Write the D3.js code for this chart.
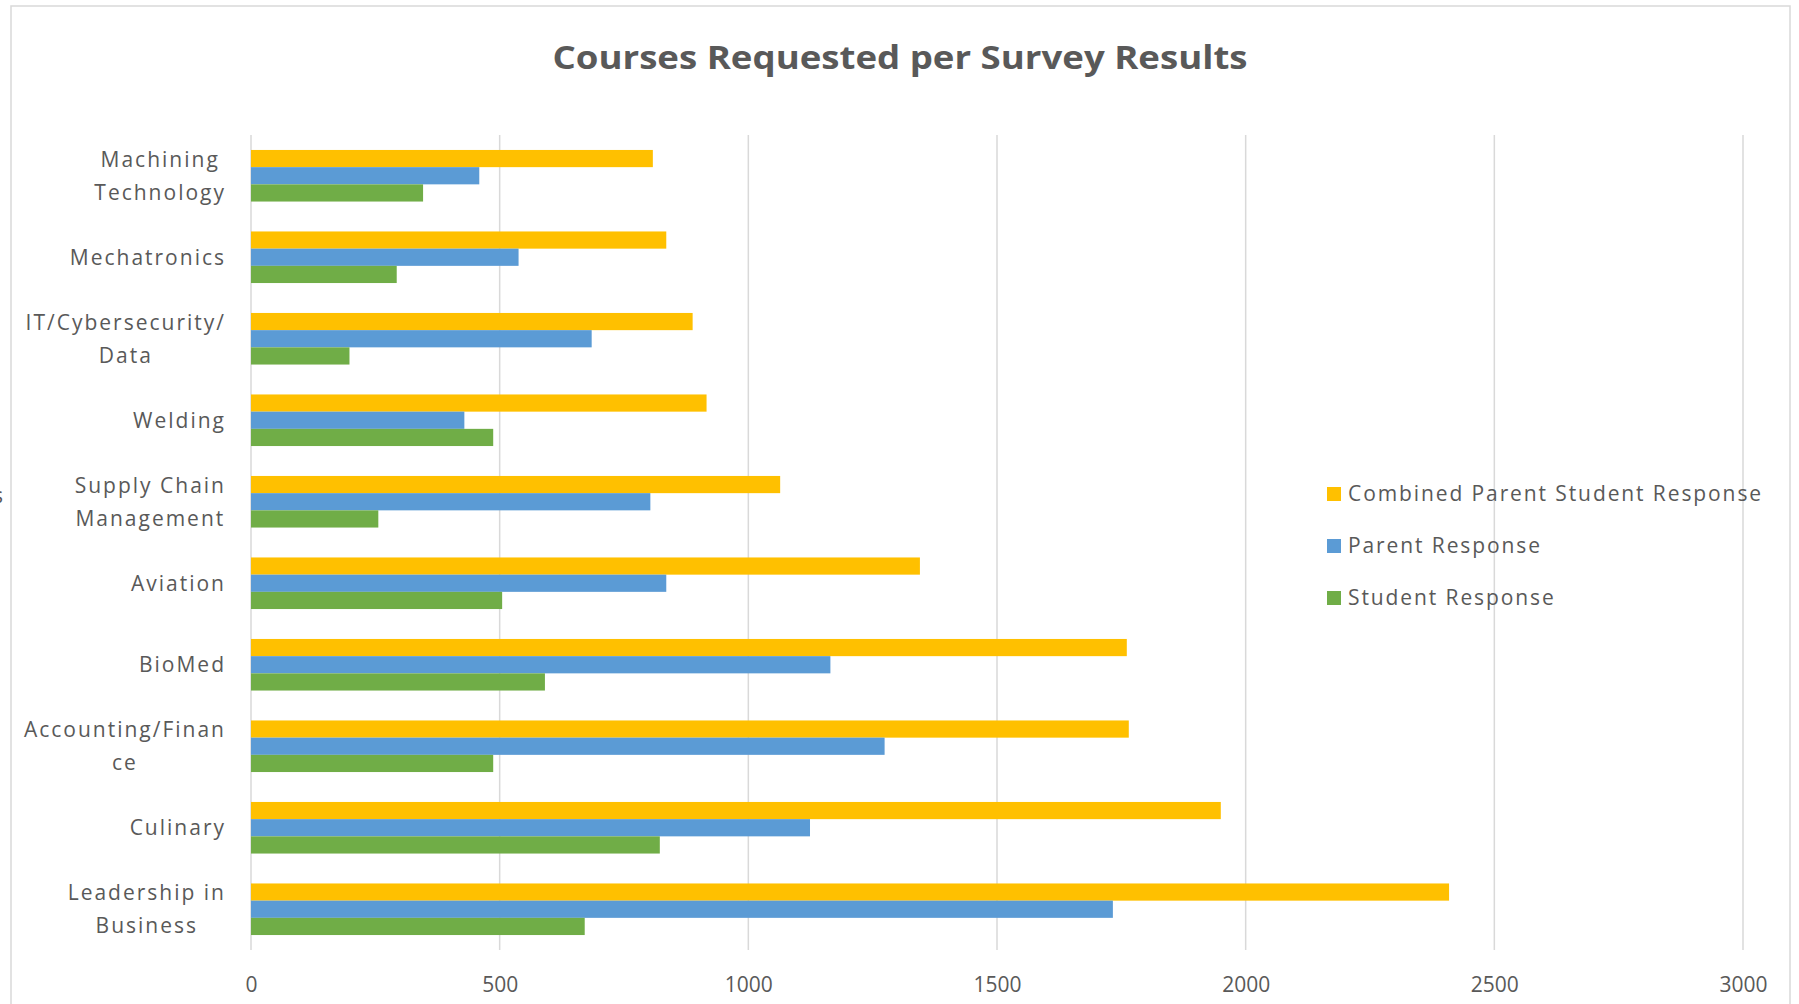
<!DOCTYPE html>
<html>
<head>
<meta charset="utf-8">
<script src="https://cdn.jsdelivr.net/npm/d3@7"></script>
<style>
  body { margin: 0; background: #fff; }
  text { font-family: "Open Sans", "Noto Sans", sans-serif; fill: #595959; }
</style>
</head>
<body>
<div class="chart"></div>
<script>
// categories top to bottom, as shown
var categories = ['Machining Technology', 'Mechatronics', 'IT/Cybersecurity/ Data', 'Welding',
  'Supply Chain Management', 'Aviation', 'BioMed', 'Accounting/Finance', 'Culinary', 'Leadership in Business'];
var labelLines = [['Machining', 'Technology'], ['Mechatronics'], ['IT/Cybersecurity/', 'Data'], ['Welding'],
  ['Supply Chain', 'Management'], ['Aviation'], ['BioMed'], ['Accounting/Finan', 'ce'], ['Culinary'], ['Leadership in', 'Business']];

var seriesNames = ['Combined Parent Student Response', 'Parent Response', 'Student Response'];
var combined = [808, 835, 888, 916, 1064, 1345, 1761, 1765, 1950, 2409];
var parent   = [459, 538, 685, 429, 803, 835, 1165, 1274, 1124, 1733];
var student  = [346, 293, 198, 487, 256, 505, 591, 487, 822, 671];
var colors = ['#FFC000', '#5B9BD5', '#70AD47'];
var ticks = [0, 500, 1000, 1500, 2000, 2500, 3000];

const width = 1799;
const height = 1004;

var svg = d3.select('.chart')
  .append('svg')
  .attr('width', width)
  .attr('height', height);

// chart border
svg.append('rect')
  .attr('x', 11).attr('y', 6)
  .attr('width', 1779).attr('height', 1010)
  .attr('fill', 'none')
  .attr('stroke', '#d9d9d9')
  .attr('stroke-width', 1.5);

svg.append('text')
  .attr('x', 900).attr('y', 69)
  .attr('text-anchor', 'middle')
  .attr('font-size', '32px')
  .attr('font-weight', 'bold')
  .attr('textLength', 695)
  .attr('lengthAdjust', 'spacingAndGlyphs')
  .text('Courses Requested per Survey Results');

var x = d3.scaleLinear().domain([0, 3000]).range([251, 1743]);
var y = d3.scaleBand().domain(categories).range([135, 950]).padding(0);
var ys = d3.scaleBand().domain(seriesNames).range([0, y.bandwidth()]).paddingInner(0).paddingOuter(0.87);

// gridlines
svg.append('g')
  .selectAll('line')
  .data(ticks)
  .enter()
  .append('line')
  .attr('x1', function(d){return x(d)})
  .attr('x2', function(d){return x(d)})
  .attr('y1', 135)
  .attr('y2', 950)
  .attr('stroke', '#d9d9d9')
  .attr('stroke-width', 1.5);

var xAxis = svg.append('g')
  .attr('transform', 'translate(0,950)')
  .call(d3.axisBottom(x).tickValues(ticks).tickSize(0).tickPadding(27).tickFormat(d3.format('d')));
xAxis.select('.domain').remove();
xAxis.selectAll('text')
  .attr('font-size', '21px')
  .style('font-family', '"Open Sans", sans-serif')
  .attr('fill', '#595959');

var seriesValues = [combined, parent, student];
seriesValues.forEach(function(vals, si) {
  svg.append('g')
    .selectAll('rect')
    .data(vals)
    .enter()
    .append('rect')
    .attr('x', x(0))
    .attr('y', function(d, i){return y(categories[i]) + ys(seriesNames[si])})
    .attr('width', function(d){return x(d) - x(0)})
    .attr('height', ys.bandwidth())
    .attr('fill', colors[si]);
});

// category labels, lines centred on each other, block right aligned
var labelRight = 226;
var lineH = 33;
labelLines.forEach(function(lines, i) {
  var g = svg.append('g');
  var cy = y(categories[i]) + y.bandwidth() / 2;
  var texts = lines.map(function(l, j) {
    return g.append('text')
      .attr('font-size', '21px')
      .attr('letter-spacing', '2px')
      .attr('y', cy + (j - (lines.length - 1) / 2) * lineH)
      .attr('dy', '0.35em')
      .attr('text-anchor', 'middle')
      .text(l);
  });
  var w = d3.max(texts, function(t){return t.node().getComputedTextLength()});
  texts.forEach(function(t){ t.attr('x', labelRight - w / 2); });
});

// partial clipped label at the left edge
svg.append('text')
  .attr('x', -7).attr('y', 503)
  .attr('font-size', '21px')
  .text('s');

// legend
var legend = svg.append('g')
  .selectAll('g')
  .data(seriesNames)
  .enter()
  .append('g')
  .attr('transform', function(d, i){return 'translate(1327,' + (494 + i * 52) + ')'});
legend.append('rect')
  .attr('x', 0).attr('y', -7)
  .attr('width', 14).attr('height', 14)
  .attr('fill', function(d, i){return colors[i]});
legend.append('text')
  .attr('x', 21).attr('dy', '0.35em')
  .attr('font-size', '21px')
  .attr('letter-spacing', '1.9px')
  .text(function(d){return d});
</script>
</body>
</html>
